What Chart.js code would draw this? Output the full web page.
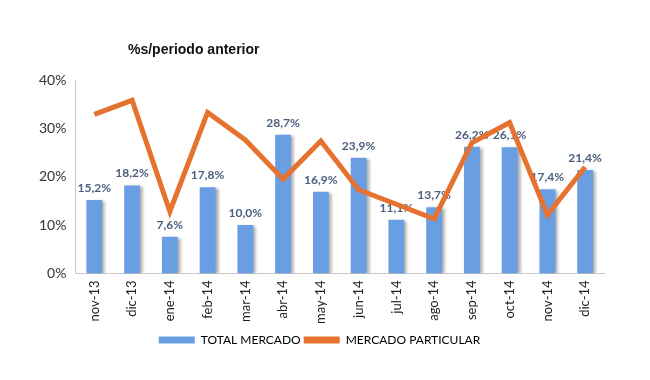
<!DOCTYPE html>
<html>
<head>
<meta charset="utf-8">
<script src="https://cdn.jsdelivr.net/npm/chart.js@4"></script>
<style>
  body { margin: 0; background: #fff; }
  #wrap { width: 650px; height: 380px; }
</style>
</head>
<body>
<div id="wrap"><canvas id="mercadoChart" width="650" height="380"></canvas></div>
<script>
const months = ['nov-13', 'dic-13', 'ene-14', 'feb-14', 'mar-14', 'abr-14', 'may-14', 'jun-14', 'jul-14', 'ago-14', 'sep-14', 'oct-14', 'nov-14', 'dic-14'];
const totalMercado = [15.2, 18.2, 7.6, 17.8, 10.0, 28.7, 16.9, 23.9, 11.1, 13.7, 26.2, 26.1, 17.4, 21.4];
const mercadoParticular = [32.9, 35.8, 12.8, 33.3, 27.6, 19.5, 27.4, 17.3, 14.3, 11.3, 27.0, 31.2, 12.1, 22.0];
const yTicks = [0, 10, 20, 30, 40];

const fmt = v => v.toFixed(1).replace('.', ',') + '%';

// shadow behind the bars + value labels on top of them
const barExtras = {
    id: 'barExtras',
    beforeDatasetDraw(chart, args) {
        if (args.index !== 0) return;
        const c = chart.ctx;
        c.save();
        c.shadowColor = 'rgba(0,0,0,0.35)';
        c.shadowOffsetX = 3;
        c.shadowOffsetY = 1;
        c.shadowBlur = 3;
    },
    afterDatasetDraw(chart, args) {
        if (args.index !== 0) return;
        const c = chart.ctx;
        c.restore();
        c.save();
        c.font = 'bold 12px Lato';
        c.fillStyle = '#4a5e7e';
        c.textAlign = 'center';
        c.textBaseline = 'bottom';
        chart.getDatasetMeta(0).data.forEach((bar, i) => {
            c.fillText(fmt(totalMercado[i]), bar.x, bar.y - 6);
        });
        c.restore();
    },
    afterDraw(chart) {
        const c = chart.ctx;
        c.save();
        c.font = 'bold 14px "Liberation Sans"';
        c.fillStyle = '#111';
        c.textAlign = 'left';
        c.textBaseline = 'middle';
        c.fillText('%s/periodo anterior', 128, 50);
        c.restore();
    }
};

const ctx = document.getElementById('mercadoChart').getContext('2d');
const mercadoChart = new Chart(ctx, {
    type: 'bar',
    data: {
        labels: months,
        datasets: [{
            type: 'bar',
            label: 'TOTAL MERCADO',
            data: totalMercado,
            backgroundColor: '#6a9ee2',
            barPercentage: 0.42,
            categoryPercentage: 1,
            order: 1
        }, {
            type: 'line',
            label: 'MERCADO PARTICULAR',
            data: mercadoParticular,
            borderColor: '#e5732f',
            backgroundColor: '#e5732f',
            borderWidth: 5,
            pointRadius: 0,
            tension: 0,
            order: 0
        }]
    },
    options: {
        responsive: false,
        animation: false,
        layout: { padding: { top: 80, right: 46, left: 35, bottom: 24 } },
        plugins: {
            title: { display: false },
            tooltip: { enabled: false },
            legend: {
                position: 'bottom',
                labels: {
                    font: { family: 'Lato', size: 12 },
                    color: '#333',
                    boxWidth: 36,
                    boxHeight: 7,
                    padding: 3,
                    generateLabels(chart) {
                        return chart.data.datasets.map((ds, i) => ({
                            text: ds.label,
                            fillStyle: ds.type === 'line' ? '#e5732f' : '#6a9ee2',
                            strokeStyle: ds.type === 'line' ? '#e5732f' : '#6a9ee2',
                            lineWidth: 0,
                            datasetIndex: i
                        }));
                    }
                }
            }
        },
        scales: {
            x: {
                grid: { display: false, drawTicks: false },
                border: { color: '#c8c8c8' },
                ticks: {
                    font: { family: 'Lato', size: 13 },
                    color: '#222',
                    maxRotation: 90,
                    minRotation: 90,
                    padding: 7
                }
            },
            y: {
                min: 0,
                max: 40,
                afterBuildTicks: axis => { axis.ticks = yTicks.map(v => ({ value: v })); },
                grid: { display: false, drawTicks: true, tickLength: 5, tickColor: '#c8c8c8', drawOnChartArea: false },
                border: { color: '#c8c8c8' },
                ticks: {
                    font: { family: 'Lato', size: 14 },
                    color: '#333',
                    padding: 4,
                    callback: v => v + '%'
                }
            }
        }
    },
    plugins: [barExtras]
});
</script>
</body>
</html>
